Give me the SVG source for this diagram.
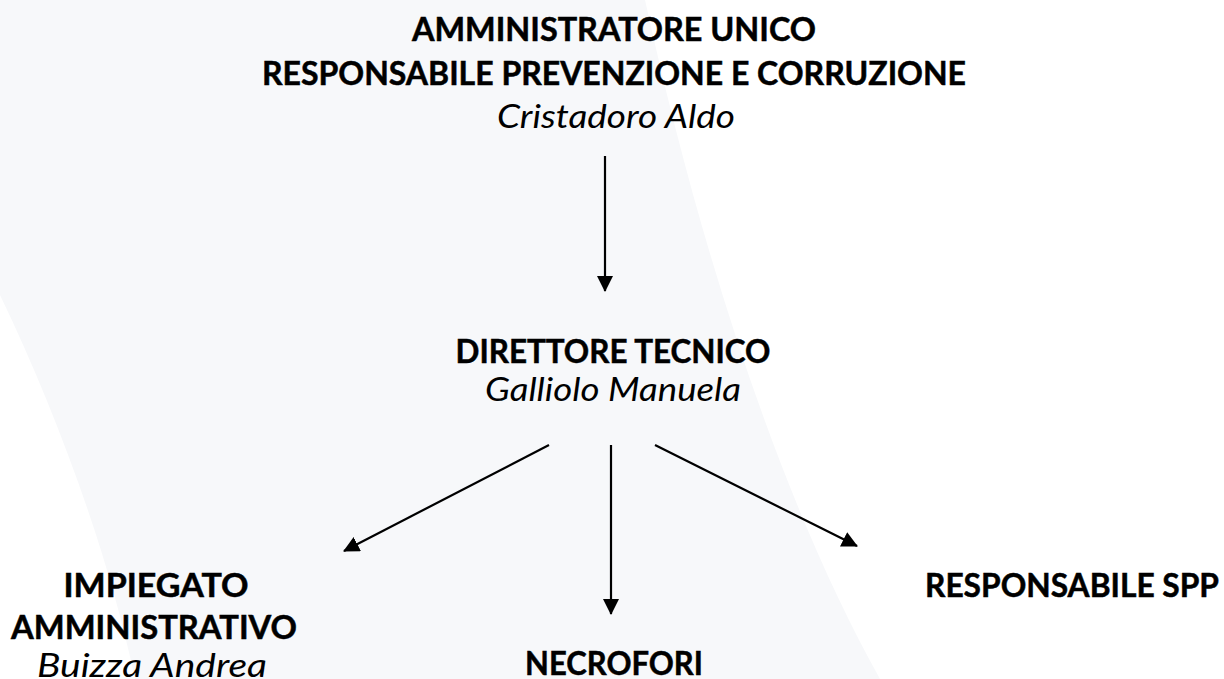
<svg xmlns="http://www.w3.org/2000/svg" width="1224" height="679" viewBox="0 0 1224 679">
<defs>
<style>
.b{font-family:Lato,"Open Sans","Liberation Sans",sans-serif;font-weight:700;font-size:32px;fill:#000;stroke:#000;stroke-width:0.5;text-anchor:middle}
.i{font-family:Lato,"Open Sans","Liberation Sans",sans-serif;font-style:italic;font-size:33px;fill:#000;text-anchor:middle}
.c{stroke:#000;stroke-width:2.2;fill:none}
</style>
<marker id="ah" viewBox="0 0 16 16" refX="15" refY="8" markerWidth="16" markerHeight="16" markerUnits="userSpaceOnUse" orient="auto">
<path d="M0,0 L16,8 L0,16 Z" fill="#000"/>
</marker>
</defs>
<rect width="1224" height="679" fill="#fff"/>
<path d="M0,0 L645,0 C700,250 780,500 880,679 L135,679 C110,560 60,420 0,295 Z" fill="#f7f8fa"/>
<g id="connectors">
<line class="c" x1="605" y1="156" x2="605" y2="291" marker-end="url(#ah)"/>
<line class="c" x1="549" y1="445" x2="344" y2="551" marker-end="url(#ah)"/>
<line class="c" x1="611" y1="445" x2="611" y2="614" marker-end="url(#ah)"/>
<line class="c" x1="655" y1="445" x2="857" y2="546" marker-end="url(#ah)"/>
</g>
<g id="node-amministratore">
<text class="b" x="614" y="41" textLength="404" lengthAdjust="spacingAndGlyphs">AMMINISTRATORE UNICO</text>
<text class="b" x="614" y="85" textLength="704" lengthAdjust="spacingAndGlyphs">RESPONSABILE PREVENZIONE E CORRUZIONE</text>
<text class="i" x="616" y="128" textLength="238" lengthAdjust="spacingAndGlyphs">Cristadoro Aldo</text>
</g>
<g id="node-direttore">
<text class="b" x="613" y="363" textLength="315" lengthAdjust="spacingAndGlyphs">DIRETTORE TECNICO</text>
<text class="i" x="613" y="401" textLength="256" lengthAdjust="spacingAndGlyphs">Galliolo Manuela</text>
</g>
<g id="node-impiegato">
<text class="b" x="156" y="597" textLength="185" lengthAdjust="spacingAndGlyphs">IMPIEGATO</text>
<text class="b" x="154" y="639" textLength="286" lengthAdjust="spacingAndGlyphs">AMMINISTRATIVO</text>
<text class="i" x="152" y="677" textLength="230" lengthAdjust="spacingAndGlyphs">Buizza Andrea</text>
</g>
<g id="node-necrofori">
<text class="b" x="614" y="675" textLength="178" lengthAdjust="spacingAndGlyphs">NECROFORI</text>
</g>
<g id="node-rspp">
<text class="b" x="1072" y="597" textLength="294" lengthAdjust="spacingAndGlyphs">RESPONSABILE SPP</text>
</g>
</svg>
